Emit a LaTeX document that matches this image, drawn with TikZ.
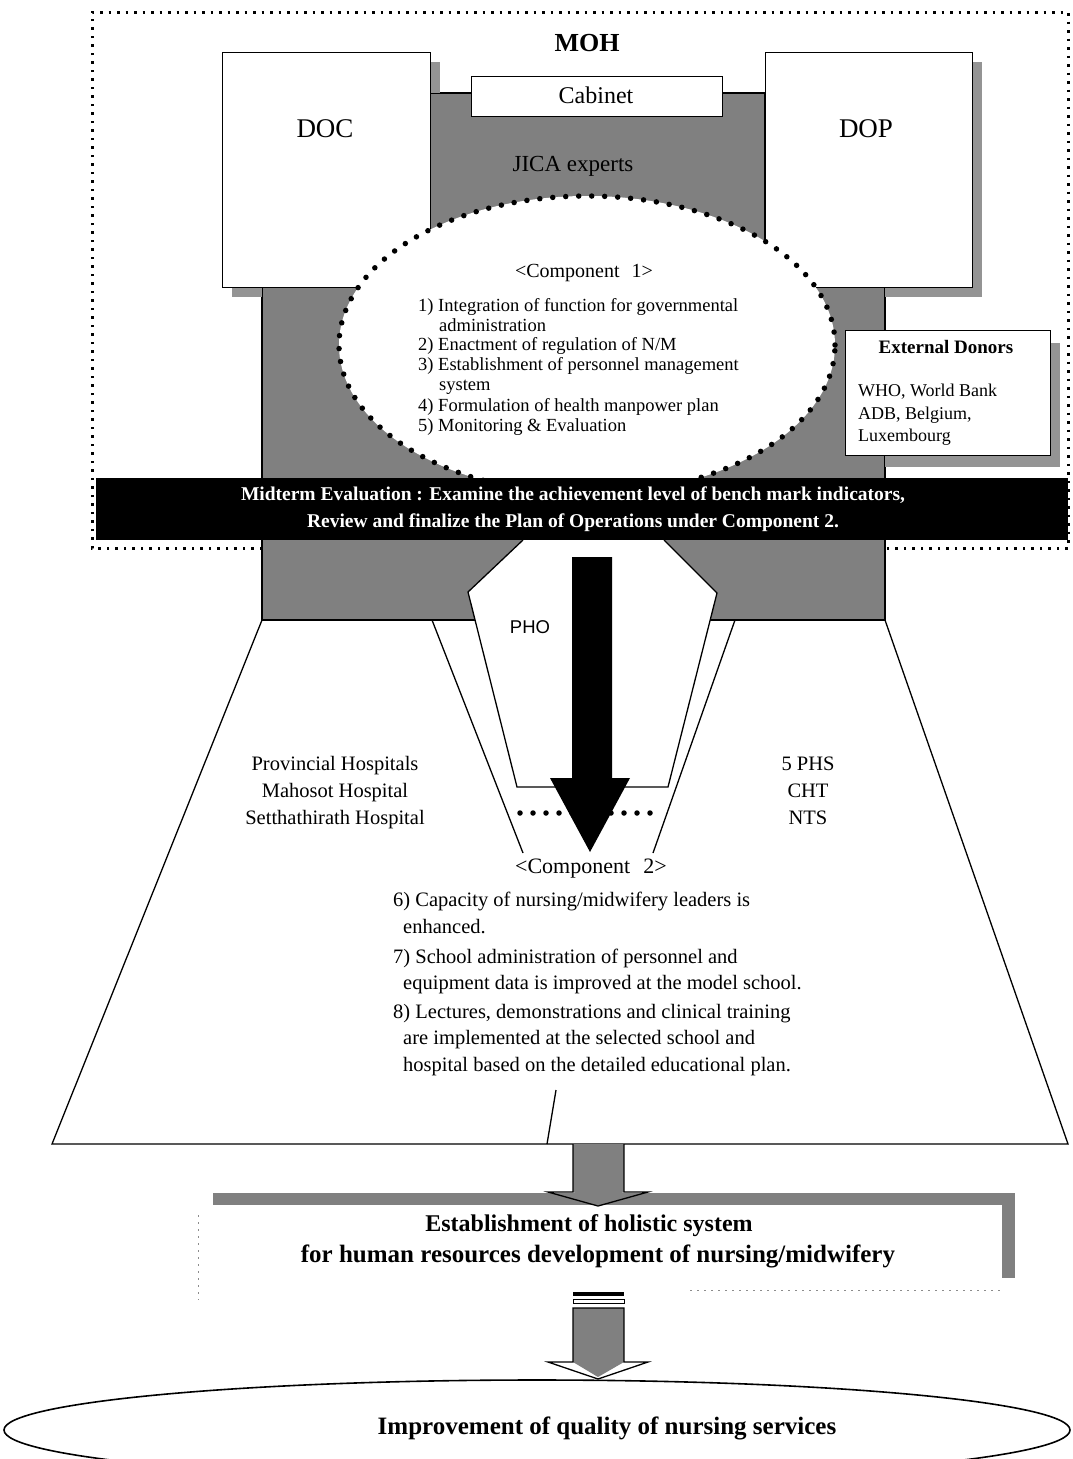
\documentclass[tikz,border=0pt]{standalone}
\usepackage{fontspec}
\setmainfont{Liberation Serif}
\newfontfamily\pholabel{Liberation Sans}
\newcommand{\fsz}[2]{\fontsize{#1}{#2}\selectfont}
\begin{document}
\begin{tikzpicture}[x=1pt,y=-1pt,
  halftone/.style={fill=black!50},
  shadowstrip/.style={fill=black!42},
  whitebox/.style={draw=black,line width=1.4pt,fill=white,inner sep=0pt,anchor=north west},
  framedots/.style={line width=3pt,dash pattern=on 2.5pt off 6pt},
  bigdots/.style={line width=5.5pt,line cap=round,dash pattern=on 0pt off 13pt},
  lbl/.style={inner sep=0pt,anchor=base},
  lblw/.style={inner sep=0pt,anchor=base west},
  edge/.style={line width=1.3pt},
]
\useasboundingbox (0,0) rectangle (1073,1459);
\fill[white] (0,0) rectangle (1073,1459);

% ---------- MOH block: shaded trunk behind the departments ----------
\draw[halftone,edge] (430,93) -- (765,93) -- (765,287) -- (885,287) -- (885,620)
  -- (262,620) -- (262,287) -- (430,287) -- cycle;
\fill[shadowstrip] (430,62) rectangle (440,93);
\fill[shadowstrip] (232,287) rectangle (262,297);
\fill[shadowstrip] (972,62) rectangle (982,297);
\fill[shadowstrip] (885,287) rectangle (982,297);

\node[whitebox,minimum width=208pt,minimum height=235pt] (doc) at (222,52) {};
\node[whitebox,minimum width=207pt,minimum height=235pt] (dop) at (765,52) {};
\node[whitebox,minimum width=251pt,minimum height=40pt] (cabinet) at (471,76) {};

% Component 1 ellipse
\fill[white] (587,345) ellipse [x radius=248pt, y radius=149pt];
\draw[bigdots] (587,345) ellipse [x radius=248pt, y radius=149pt];

\node[lbl,font=\fsz{26}{30}\bfseries] (moh) at (587,51) {MOH};
\node[lbl,font=\fsz{27}{30}] (docl) at (325,137) {DOC};
\node[lbl,font=\fsz{27}{30}] (dopl) at (866,137) {DOP};
\node[lbl,font=\fsz{24}{28}] (cabl) at (596,103) {Cabinet};
\node[lbl,font=\fsz{23}{26}] (jica) at (573,171) {JICA experts};

\node[lbl,font=\fsz{20}{22}] (c1head) at (584,277) {<Component\hspace{0.6em}1>};
\begin{scope}[every node/.style={lblw,font=\fsz{18.5}{20}}]
  \node (c1a) at (418,311) {1) Integration of function for governmental};
  \node (c1b) at (439,331) {administration};
  \node (c1c) at (418,350) {2) Enactment of regulation of N/M};
  \node (c1d) at (418,370) {3) Establishment of personnel management};
  \node (c1e) at (439,390) {system};
  \node (c1f) at (418,411) {4) Formulation of health manpower plan};
  \node (c1g) at (418,431) {5) Monitoring \& Evaluation};
\end{scope}

% External donors
\fill[shadowstrip] (1050,343) rectangle (1060,467);
\fill[shadowstrip] (885,455) rectangle (1060,467);
\node[whitebox,minimum width=205pt,minimum height=125pt] (donors) at (845,330) {};
\node[lbl,font=\fsz{19}{22}\bfseries] (donh) at (946,353) {External Donors};
\begin{scope}[every node/.style={lblw,font=\fsz{18}{22}}]
  \node (don1) at (858,396) {WHO, World Bank};
  \node (don2) at (858,419) {ADB, Belgium,};
  \node (don3) at (858,441) {Luxembourg};
\end{scope}

% PHO hexagon below the bar
\draw[edge,fill=white] (523,540) -- (468,592) -- (517,787) -- (668,787) -- (717,593) -- (664,540);

% Midterm evaluation bar
\node[fill=black,inner sep=0pt,anchor=north west,minimum width=972pt,minimum height=62pt] (midbar) at (96,478) {};
\node[lbl,text=white,font=\fsz{19.5}{24}\bfseries] (mid1) at (573,500)
  {Midterm Evaluation : Examine the achievement level of bench mark indicators,};
\node[lbl,text=white,font=\fsz{19.5}{24}\bfseries] (mid2) at (573,527)
  {Review and finalize the Plan of Operations under Component 2.};

% dotted MOH frame
\draw[framedots] (262,548) -- (92,548) -- (92,12) -- (1068,12) -- (1068,548) -- (885,548);

% ---------- provincial level ----------
\coordinate (tl) at (262,620);
\coordinate (tr) at (885,620);
\coordinate (bl) at (52,1144);
\coordinate (br) at (1068,1144);
\draw[edge] (tl) -- (bl) -- (br) -- (tr);
\draw[edge] (432,620) -- (523,853);
\draw[edge] (735,620) -- (653,853);
\draw[edge] (556,1090) -- (547,1144);

\node[lbl,font=\fsz{18.5}{22}\pholabel] (pho) at (530,633) {PHO};

\draw[bigdots] (520,813) -- (656,813);
\fill (572,557) -- (612,557) -- (612,778) -- (630,778) -- (590,852) -- (550,778) -- (572,778) -- cycle;

\begin{scope}[every node/.style={lbl,font=\fsz{20.5}{27}}]
  \node (prov1) at (335,770) {Provincial Hospitals};
  \node (prov2) at (335,797) {Mahosot Hospital};
  \node (prov3) at (335,824) {Setthathirath Hospital};
  \node (sch1) at (808,770) {5 PHS};
  \node (sch2) at (808,797) {CHT};
  \node (sch3) at (808,824) {NTS};
\end{scope}

\node[lbl,font=\fsz{22}{24}] (c2head) at (591,873) {<Component\hspace{0.6em}2>};
\begin{scope}[every node/.style={lblw,font=\fsz{20.5}{27}}]
  \node (c2a) at (393,906) {6) Capacity of nursing/midwifery leaders is};
  \node (c2b) at (403,933) {enhanced.};
  \node (c2c) at (393,963) {7) School administration of personnel and};
  \node (c2d) at (403,989) {equipment data is improved at the model school.};
  \node (c2e) at (393,1018) {8) Lectures, demonstrations and clinical training};
  \node (c2f) at (403,1044) {are implemented at the selected school and};
  \node (c2g) at (403,1071) {hospital based on the detailed educational plan.};
\end{scope}

% ---------- outcome box ----------
\fill[halftone] (213,1193) rectangle (1015,1205);
\fill[halftone] (1002,1193) rectangle (1015,1278);
\draw[black!45,line width=0.7pt,dash pattern=on 2pt off 5pt] (198,1215) -- (198,1300);
\draw[black!45,line width=0.7pt,dash pattern=on 2pt off 5pt] (690,1290) -- (1000,1290);

\fill[halftone] (573,1144) rectangle (624,1192);
\fill[halftone] (573,1192) -- (624,1192) -- (598,1204) -- cycle;
\draw[edge] (573,1144) -- (573,1192) -- (548,1192) -- (598,1206) -- (648,1192) -- (624,1192) -- (624,1144);

\node[lbl,font=\fsz{24}{28}\bfseries] (est1) at (589,1231) {Establishment of holistic system};
\node[lbl,font=\fsz{25}{28}\bfseries] (est2) at (598,1262) {for human resources development of nursing/midwifery};

% arrow to the goal
\fill (573,1292) rectangle (624,1296);
\draw[line width=1pt] (573,1299) rectangle (624,1303);
\fill[halftone] (573,1308) rectangle (624,1362);
\fill[halftone] (573,1362) -- (624,1362) -- (598,1377) -- cycle;
\draw[edge] (573,1308) -- (573,1362) -- (548,1362) -- (598,1379) -- (648,1362) -- (624,1362) -- (624,1308) -- cycle;

\draw[line width=1.6pt] (537,1430) ellipse [x radius=533pt, y radius=50pt];
\node[lbl,font=\fsz{25}{28}\bfseries] (goal) at (607,1434) {Improvement of quality of nursing services};
\end{tikzpicture}
\end{document}
